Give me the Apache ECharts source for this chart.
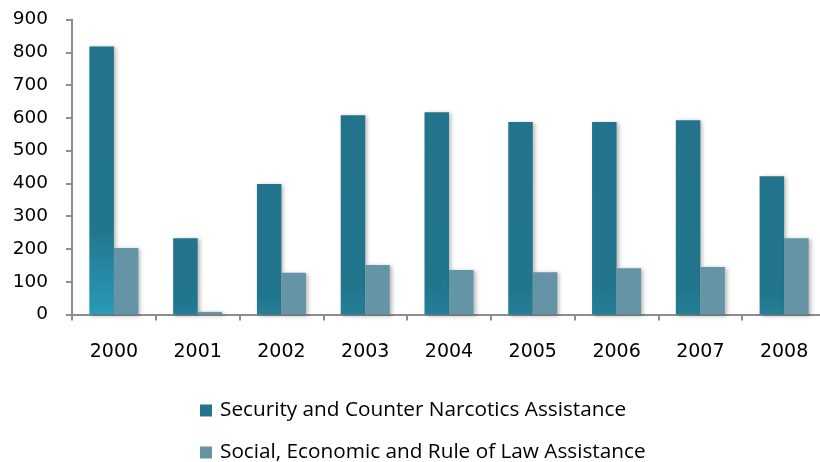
<!DOCTYPE html>
<html>
<head>
<meta charset="utf-8">
<script src="https://cdn.jsdelivr.net/npm/echarts@6/dist/echarts.min.js"></script>
<style>html,body{margin:0;padding:0;background:#fff}#c{width:820px;height:462px}</style>
</head>
<body>
<div id="c"></div>
<script>
var categories = ['2000','2001','2002','2003','2004','2005','2006','2007','2008'];
var securityValues = [818, 233, 398, 608, 617, 587, 587, 593, 422];
var socialValues = [203, 8, 127, 151, 136, 129, 141, 145, 233];
var yTicks = [0, 100, 200, 300, 400, 500, 600, 700, 800, 900];
var seriesNames = ['Security and Counter Narcotics Assistance', 'Social, Economic and Rule of Law Assistance'];

var secColor = {type:'linear',x:0,y:0,x2:0,y2:1,colorStops:[{offset:0,color:'#21748B'},{offset:0.85,color:'#21758C'},{offset:1,color:'#247F98'}]};
var secColorFirst = {type:'linear',x:0,y:0,x2:0,y2:1,colorStops:[{offset:0,color:'#21748B'},{offset:0.68,color:'#21758C'},{offset:1,color:'#2B9AB8'}]};
var shadow = {shadowColor:'rgba(0,0,0,0.28)', shadowBlur:4, shadowOffsetX:2, shadowOffsetY:1};
var legendText = {color:'#000', fontFamily:'Open Sans', fontSize:20.75, padding:[0,0,0,3]};

var chart = echarts.init(document.getElementById('c'), null, {renderer:'canvas'});
chart.setOption({
  animation:false,
  backgroundColor:'#ffffff',
  grid:{left:72, top:19.5, width:754, height:295, containLabel:false, outerBoundsMode:'none'},
  xAxis:{
    type:'category', data:categories, boundaryGap:true,
    axisLine:{show:true, lineStyle:{color:'#8e8e8e', width:2}},
    axisTick:{show:true, length:6, lineStyle:{color:'#8e8e8e', width:2}},
    axisLabel:{color:'#000', fontFamily:'DejaVu Sans', fontSize:19, margin:28, interval:0},
    splitLine:{show:false}
  },
  yAxis:{
    type:'value', min:yTicks[0], max:yTicks[yTicks.length-1], interval:yTicks[1]-yTicks[0],
    axisLine:{show:true, lineStyle:{color:'#8e8e8e', width:2}},
    axisTick:{show:true, length:6, lineStyle:{color:'#8e8e8e', width:2}},
    axisLabel:{color:'#000', fontFamily:'DejaVu Sans', fontSize:18.5, margin:24},
    splitLine:{show:false}
  },
  legend:[
    {orient:'vertical', left:200, top:400, itemWidth:12, itemHeight:12, icon:'rect', padding:0,
     textStyle:legendText, data:[seriesNames[0]]},
    {orient:'vertical', left:200, top:442, itemWidth:12, itemHeight:12, icon:'rect', padding:0,
     textStyle:legendText, data:[seriesNames[1]]}
  ],
  series:[
    {name:seriesNames[0], type:'bar', barWidth:24.5, barGap:'0%', barCategoryGap:'42%',
     itemStyle:Object.assign({color:'#21758C'}, shadow),
     data:securityValues.map(function(v,i){return {value:v, itemStyle:{color: i===0?secColorFirst:secColor}};})},
    {name:seriesNames[1], type:'bar', barWidth:24.5,
     itemStyle:Object.assign({color:'#6494A6'}, shadow),
     data:socialValues}
  ]
});
</script>
</body>
</html>
